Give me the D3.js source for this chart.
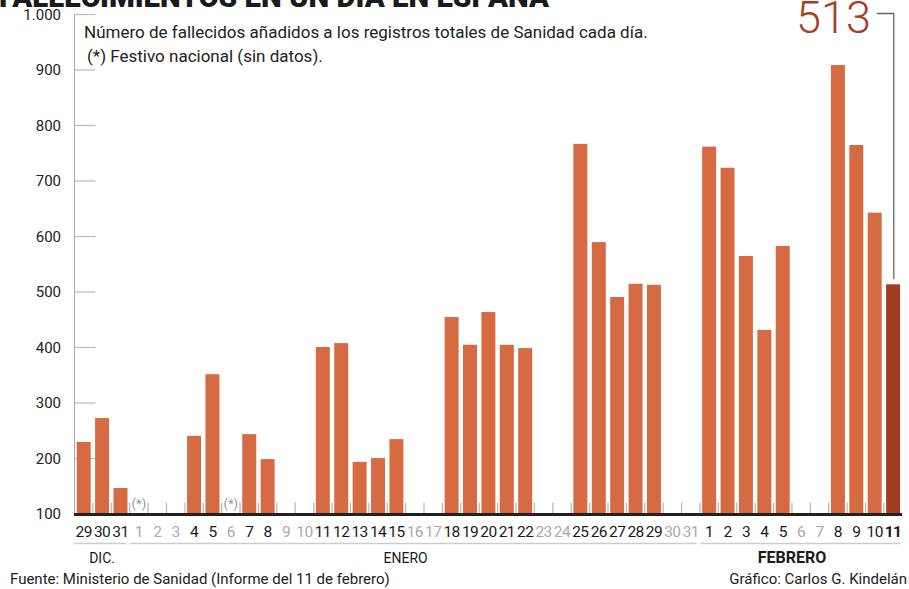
<!DOCTYPE html>
<html><head><meta charset="utf-8">
<script src="https://cdn.jsdelivr.net/npm/d3@7"></script>
<style>
body{margin:0;background:#fff;}
svg{display:block;font-family:Roboto, "Noto Sans", sans-serif;}
</style></head>
<body><svg id="c" width="909" height="589"></svg>
<script>
// ---- data ----
const dayLabels = ["29","30","31",
 "1","2","3","4","5","6","7","8","9","10","11","12","13","14","15","16","17","18","19","20","21","22","23","24","25","26","27","28","29","30","31",
 "1","2","3","4","5","6","7","8","9","10","11"];
const months = ["DIC.","DIC.","DIC.",
 ...Array(31).fill("ENERO"), ...Array(11).fill("FEBRERO")];
const deaths = [229,272,146,
 null,null,null,240,351,null,243,198,null,null,400,407,193,200,234,null,null,454,404,463,404,398,null,null,766,589,490,514,512,null,null,
 761,723,564,431,582,null,null,908,764,642,513];
const holidays = [3, 8]; // indices: 1 ene, 6 ene
const yTicks = [100,200,300,400,500,600,700,800,900,1000];
const groups = [
  {name:"DIC.", from:0, to:2, labelAt:1, bold:false},
  {name:"ENERO", from:3, to:33, labelAt:17.5, bold:false},
  {name:"FEBRERO", from:34, to:44, labelAt:38.5, bold:true}
];
const title = "FALLECIMIENTOS EN UN DÍA EN ESPAÑA";
const subtitle1 = "Número de fallecidos añadidos a los registros totales de Sanidad cada día.";
const subtitle2 = "(*) Festivo nacional (sin datos).";
const source = "Fuente: Ministerio de Sanidad (Informe del 11 de febrero)";
const credit = "Gráfico: Carlos G. Kindelán";
const highlightValue = 513;

// ---- drawing ----
const svg = d3.select("#c");
const idx = d3.range(dayLabels.length);
const x = d3.scaleBand().domain(idx).range([74.5, 902.3]).paddingInner(0.24).paddingOuter(0.12);
const y = d3.scaleLinear().domain([100, 1000]).range([513.5, 14]);
const loc = d3.formatLocale({decimal:",", thousands:".", grouping:[3], currency:["","€"]});
const fmt = loc.format(",d");

// title (clipped at top)
svg.append("text").attr("x", -1).attr("y", 7).attr("font-size", 30).attr("font-weight", 900)
  .attr("fill", "#1a1a1a").attr("textLength", 550).attr("lengthAdjust","spacingAndGlyphs").text(title);

// y axis
const yAxis = d3.axisRight(y).tickValues(yTicks).tickSize(21).tickFormat("");
const yg = svg.append("g").attr("transform", "translate(74.5,0)").call(yAxis);
yg.select(".domain").attr("stroke", "#aaa").attr("d", `M0,${y(1000)}V${y(100)}`);
yg.selectAll(".tick line").attr("stroke", "#bbb").attr("stroke-width", 1.2);
svg.append("g").selectAll("text").data(yTicks).join("text")
  .attr("x", 61).attr("y", d => y(d) + 5.5).attr("text-anchor", "end")
  .attr("font-size", 15).attr("fill", "#222").text(d => fmt(d));

// subtitle
svg.append("text").attr("x", 84).attr("y", 38).attr("font-size", 17).attr("fill", "#222").text(subtitle1);
svg.append("text").attr("x", 87).attr("y", 62).attr("font-size", 17).attr("fill", "#222").text(subtitle2);

// small day-separator ticks
const seps = d3.range(1, dayLabels.length);
svg.append("g").selectAll("line").data(seps).join("line")
  .attr("x1", d => x(d) - x.step()*x.paddingInner()/2)
  .attr("x2", d => x(d) - x.step()*x.paddingInner()/2)
  .attr("y1", y(100) - 11).attr("y2", y(100))
  .attr("stroke", "#bbb").attr("stroke-width", 1.3);

// bars
svg.append("g").selectAll("rect").data(idx.filter(i => deaths[i] != null)).join("rect")
  .attr("x", i => x(i)).attr("width", x.bandwidth())
  .attr("y", i => y(deaths[i])).attr("height", i => y(100) - y(deaths[i]))
  .attr("fill", i => i === idx.length - 1 ? "#a03d22" : "#d66b43");

// holiday marks
svg.append("g").selectAll("text").data(holidays).join("text")
  .attr("x", i => x(i) + x.bandwidth()/2).attr("y", y(100) - 6)
  .attr("text-anchor", "middle").attr("font-size", 13).attr("fill", "#999").text("(*)");

// baseline
svg.append("line").attr("x1", 74).attr("x2", 902).attr("y1", y(100) + 1).attr("y2", y(100) + 1)
  .attr("stroke", "#222").attr("stroke-width", 3);

// day labels
svg.append("g").selectAll("text").data(idx).join("text")
  .attr("x", i => x(i) + x.bandwidth()/2).attr("y", 537)
  .attr("text-anchor", "middle").attr("font-size", 15.5).attr("letter-spacing", -0.6)
  .attr("fill", i => deaths[i] == null ? "#aaa" : "#1a1a1a")
  .attr("font-weight", i => i === idx.length - 1 ? 700 : 400)
  .text(i => dayLabels[i]);

// group lines & labels
const gg = svg.append("g");
gg.selectAll("line").data(groups).join("line")
  .attr("x1", g => g.from === 0 ? 74 : x(g.from) - 2)
  .attr("x2", g => g.to === idx.length - 1 ? 900 : x(g.to) + x.bandwidth() - 1)
  .attr("y1", 543.5).attr("y2", 543.5).attr("stroke", "#ccc").attr("stroke-width", 1.5);
gg.selectAll("text").data(groups).join("text")
  .attr("x", g => x(Math.floor(g.labelAt)) + x.bandwidth()/2 + (g.labelAt % 1) * x.step())
  .attr("y", 563).attr("text-anchor", "middle")
  .attr("font-size", g => g.bold ? 16 : 14).attr("font-weight", g => g.bold ? 700 : 400)
  .attr("fill", "#1a1a1a").text(g => g.name);

// highlight annotation
const last = idx.length - 1;
const lx = x(last) + x.bandwidth()/2 + 0.7;
svg.append("path").attr("d", `M877,13.5H${lx}V${y(highlightValue) - 5}`)
  .attr("fill", "none").attr("stroke", "#666").attr("stroke-width", 1.3);
svg.append("text").attr("x", 871).attr("y", 33).attr("text-anchor", "end")
  .attr("font-size", 45).attr("font-weight", 300).attr("fill", "#a43f26").text(highlightValue);

// footer
svg.append("text").attr("x", 10).attr("y", 584).attr("font-size", 15).attr("fill", "#222").text(source);
svg.append("text").attr("x", 907).attr("y", 584).attr("text-anchor", "end").attr("font-size", 15).attr("fill", "#222").text(credit);
</script></body></html>
